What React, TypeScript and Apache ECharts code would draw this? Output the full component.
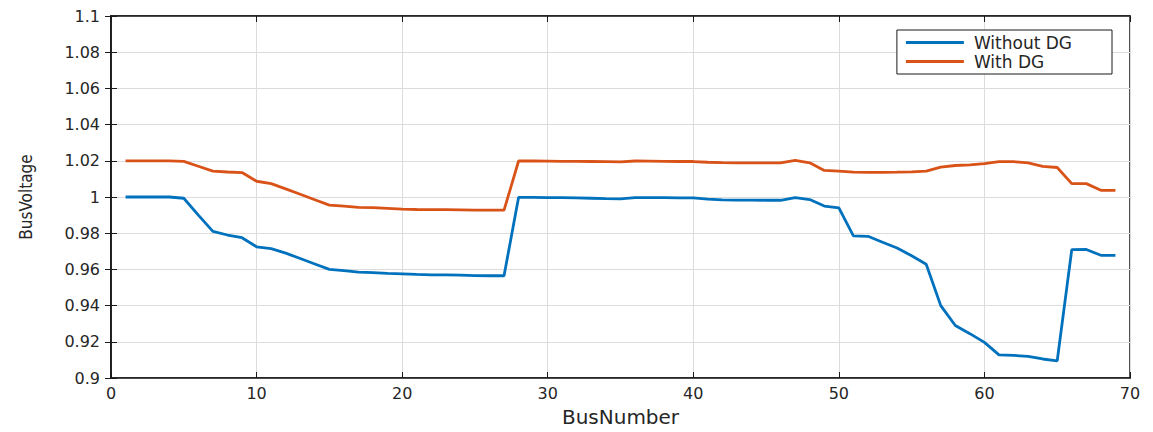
import React, { useEffect, useRef } from "react";
import * as echarts from "echarts";

const busNumbers = [
  1, 2, 3, 4, 5, 6, 7, 8, 9, 10, 11, 12, 13, 14, 15, 16, 17, 18, 19, 20, 21, 22, 23,
  24, 25, 26, 27, 28, 29, 30, 31, 32, 33, 34, 35, 36, 37, 38, 39, 40, 41, 42, 43, 44,
  45, 46, 47, 48, 49, 50, 51, 52, 53, 54, 55, 56, 57, 58, 59, 60, 61, 62, 63, 64, 65,
  66, 67, 68, 69,
];

const withoutDG = [
  1.0, 1.0, 1.0, 1.0, 0.9993, 0.990, 0.981, 0.979, 0.9775, 0.9725, 0.9715, 0.969,
  0.966, 0.963, 0.960, 0.9593, 0.9585, 0.9582, 0.9578, 0.9575, 0.9572, 0.957, 0.957,
  0.9568, 0.9566, 0.9565, 0.9565, 0.9998, 0.9998, 0.9997, 0.9996, 0.9995, 0.9993,
  0.9991, 0.999, 0.9997, 0.9996, 0.9996, 0.9995, 0.9995, 0.9988, 0.9984, 0.9983,
  0.9983, 0.9982, 0.9982, 0.9997, 0.9986, 0.995, 0.994, 0.9785, 0.9783, 0.975,
  0.9718, 0.9675, 0.9628, 0.940, 0.929, 0.9245, 0.9197, 0.9128, 0.9125, 0.912,
  0.9105, 0.9095, 0.9709, 0.971, 0.9678, 0.9678,
];

const withDG = [
  1.02, 1.02, 1.02, 1.02, 1.0197, 1.017, 1.0143, 1.0138, 1.0135, 1.0087, 1.0074,
  1.0045, 1.0015, 0.9985, 0.9955, 0.995, 0.9943, 0.9941, 0.9937, 0.9933, 0.9931,
  0.993, 0.993, 0.9929, 0.9928, 0.9927, 0.9927, 1.0199, 1.0199, 1.0198, 1.0197,
  1.0197, 1.0196, 1.0195, 1.0194, 1.0199, 1.0198, 1.0197, 1.0196, 1.0196, 1.0192,
  1.019, 1.0189, 1.0189, 1.0188, 1.0188, 1.0202, 1.0189, 1.0147, 1.0143, 1.0137,
  1.0136, 1.0136, 1.0137, 1.0139, 1.0143, 1.0165, 1.0174, 1.0178, 1.0184, 1.0195,
  1.0195, 1.0188, 1.0169, 1.0163, 1.0074, 1.0074, 1.0037, 1.0037,
];

const xTicks = { min: 0, max: 70, interval: 10 };
const yTicks = { min: 0.9, max: 1.1, interval: 0.02 };

const seriesNames = ["Without DG", "With DG"];
const seriesColors = ["#0072BD", "#D95319"];

export default function App() {
  const ref = useRef<HTMLDivElement>(null);

  useEffect(() => {
    if (!ref.current) return;
    const chart = echarts.init(ref.current, null, { renderer: "svg" });
    const font = "'DejaVu Sans', 'Liberation Sans', Arial, sans-serif";
    const yFmt = (v: number) => String(Math.round(v * 100) / 100);
    const axisDark = "#1a1a1a";
    const textColor = "#262626";
    chart.setOption({
      animation: false,
      backgroundColor: "#ffffff",
      grid: {
        left: 111,
        right: 23,
        top: 16,
        bottom: 51,
        show: true,
        borderColor: axisDark,
        borderWidth: 1.5,
        backgroundColor: "transparent",
      },
      legend: {
        data: seriesNames,
        orient: "vertical",
        right: 41,
        top: 30,
        itemWidth: 58,
        itemHeight: 3,
        itemGap: 2,
        padding: [4, 40, 4, 9],
        borderColor: axisDark,
        borderWidth: 1,
        backgroundColor: "#fff",
        icon: "rect",
        textStyle: {
          fontFamily: font,
          fontSize: 17,
          color: textColor,
          padding: [0, 0, 0, 5],
        },
      },
      xAxis: [
        {
          type: "value",
          min: xTicks.min,
          max: xTicks.max,
          interval: xTicks.interval,
          name: "BusNumber",
          nameLocation: "middle",
          nameGap: 29,
          nameTextStyle: { fontFamily: font, fontSize: 20, color: textColor },
          axisLine: { show: true, lineStyle: { color: axisDark, width: 1.5 } },
          axisTick: { show: true, inside: true, length: 6, lineStyle: { color: axisDark } },
          axisLabel: { fontFamily: font, fontSize: 16, color: textColor, margin: 7 },
          splitLine: { show: true, lineStyle: { color: "#dcdcdc", width: 1 } },
        },
        {
          type: "value",
          position: "top",
          min: xTicks.min,
          max: xTicks.max,
          interval: xTicks.interval,
          axisLine: { show: true, lineStyle: { color: axisDark, width: 1.5 } },
          axisTick: { show: true, inside: true, length: 6, lineStyle: { color: axisDark } },
          axisLabel: { show: false },
          splitLine: { show: false },
        },
      ],
      yAxis: [
        {
          type: "value",
          min: yTicks.min,
          max: yTicks.max,
          interval: yTicks.interval,
          name: "BusVoltage",
          nameLocation: "middle",
          nameGap: 77,
          nameTextStyle: {
            fontFamily: "'Liberation Sans Narrow', 'DejaVu Sans Condensed', Arial, sans-serif",
            fontSize: 17,
            color: textColor,
          },
          axisLine: { show: true, lineStyle: { color: axisDark, width: 1.5 } },
          axisTick: { show: true, inside: true, length: 6, lineStyle: { color: axisDark } },
          axisLabel: { fontFamily: font, fontSize: 16, color: textColor, margin: 11, formatter: yFmt },
          splitLine: { show: true, lineStyle: { color: "#dcdcdc", width: 1 } },
        },
        {
          type: "value",
          position: "right",
          min: yTicks.min,
          max: yTicks.max,
          interval: yTicks.interval,
          axisLine: { show: true, lineStyle: { color: axisDark, width: 1.5 } },
          axisTick: { show: true, inside: true, length: 6, lineStyle: { color: axisDark } },
          axisLabel: { show: false },
          splitLine: { show: false },
        },
      ],
      series: [
        {
          name: seriesNames[0],
          type: "line",
          data: busNumbers.map((b, i) => [b, withoutDG[i]]),
          showSymbol: false,
          color: seriesColors[0],
          lineStyle: { width: 2.8, color: seriesColors[0] },
        },
        {
          name: seriesNames[1],
          type: "line",
          data: busNumbers.map((b, i) => [b, withDG[i]]),
          showSymbol: false,
          color: seriesColors[1],
          lineStyle: { width: 2.8, color: seriesColors[1] },
        },
      ],
    });
    return () => chart.dispose();
  }, []);

  return (
    <div
      ref={ref}
      style={{ position: "fixed", left: 0, top: 0, width: 1153, height: 432 }}
    />
  );
}
